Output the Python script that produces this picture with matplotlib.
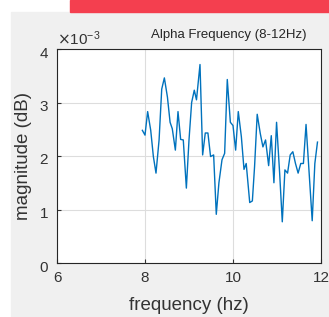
import matplotlib.pyplot as plt
import matplotlib.patches as mpatches
import matplotlib.transforms as mtransforms
from matplotlib.ticker import ScalarFormatter

plt.rcParams['font.family'] = ['Liberation Sans', 'DejaVu Sans']

# values
freq = [7.94, 8.00, 8.06, 8.13, 8.19, 8.25, 8.32, 8.38, 8.44, 8.51, 8.57, 8.62,
        8.69, 8.75, 8.81, 8.87, 8.94, 9.00, 9.06, 9.12, 9.17, 9.25, 9.31, 9.37,
        9.43, 9.49, 9.56, 9.62, 9.68, 9.75, 9.81, 9.87, 9.94, 10.00, 10.06, 10.12,
        10.19, 10.25, 10.30, 10.38, 10.44, 10.49, 10.55, 10.62, 10.68, 10.74, 10.81,
        10.87, 10.93, 10.99, 11.06, 11.12, 11.18, 11.24, 11.30, 11.36, 11.42, 11.48,
        11.54, 11.60, 11.66, 11.74, 11.80, 11.86, 11.92]
mag = [2.48, 2.39, 2.83, 2.48, 1.99, 1.68, 2.30, 3.25, 3.46, 3.10, 2.63, 2.51,
       2.11, 2.83, 2.31, 2.30, 1.40, 2.30, 3.00, 3.23, 3.05, 3.71, 2.02, 2.43,
       2.43, 1.99, 2.02, 0.91, 1.50, 1.93, 2.05, 3.43, 2.63, 2.57, 2.11, 2.83,
       2.36, 1.75, 1.86, 1.13, 1.16, 1.80, 2.78, 2.42, 2.17, 2.30, 1.82,
       2.38, 1.50, 2.63, 1.68, 0.77, 1.74, 1.68, 2.02, 2.08, 1.86, 1.68,
       1.86, 1.86, 2.59, 1.56, 0.79, 1.86, 2.26]
mag = [m * 1e-3 for m in mag]

xticks = [6, 8, 10, 12]
yticks = [0, 1e-3, 2e-3, 3e-3, 4e-3]

W, H = 329, 317
fig = plt.figure(figsize=(W / 100, H / 100), dpi=100)
fig.patch.set_facecolor('white')
# gray window background and red strip on top
fig.patches.append(mpatches.Rectangle((11 / W, 0), 1, 1 - 12 / H, transform=fig.transFigure,
                                      color='#f0f0f0', zorder=-10))
fig.patches.append(mpatches.Rectangle((70 / W, 1 - 12 / H), 1, 12 / H, transform=fig.transFigure,
                                      color='#f43f4f', zorder=-10))

left, right, top, bottom = 57, 321, 49, 263
ax = fig.add_axes([left / W, 1 - bottom / H, (right - left) / W, (bottom - top) / H])
ax.plot(freq, mag, color='#0072BD', lw=1.0)

ax.set_xlim(6, 12)
ax.set_ylim(0, 4e-3)
ax.set_xticks(xticks)
ax.set_yticks(yticks)
fmt = ScalarFormatter(useMathText=True)
fmt.set_powerlimits((0, 0))
ax.yaxis.set_major_formatter(fmt)
off = ax.yaxis.get_offset_text()
off.set_fontsize(11)
off.set_color('#333333')

ax.grid(True, color='#dddddd', lw=0.8)
ax.set_axisbelow(True)
ax.tick_params(direction='in', length=3, labelsize=11, colors='#333333', width=0.8,
               top=False, right=False)
ax.tick_params(axis='x', pad=6)
ax.tick_params(axis='y', pad=6)
shift = mtransforms.ScaledTranslation(0, -3 / 100, fig.dpi_scale_trans)
for lab in ax.get_yticklabels():
    lab.set_transform(lab.get_transform() + shift)
for s in ax.spines.values():
    s.set_color('#262626')
    s.set_linewidth(0.8)

ax.set_xlabel('frequency (hz)', fontsize=13.5, color='#333333', labelpad=8.5)
ax.set_ylabel('magnitude (dB)', fontsize=13.5, color='#333333', labelpad=5)
fig.text(229 / W, 1 - 35 / H, 'Alpha Frequency (8-12Hz)', fontsize=9.5, ha='center',
         va='center', color='#262626')

fig.savefig('out.png', dpi=100)
